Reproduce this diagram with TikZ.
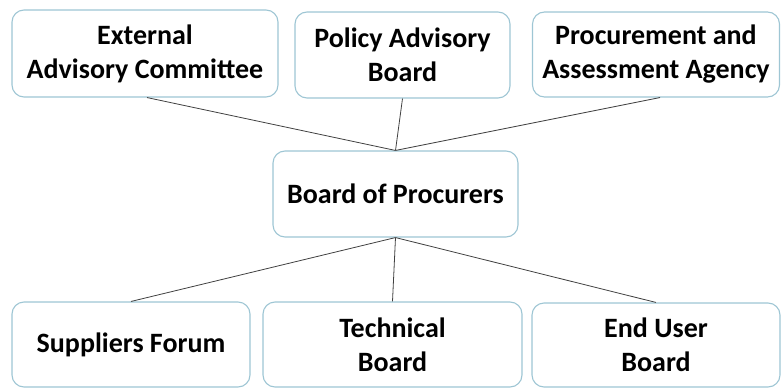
\documentclass[tikz,border=0pt]{standalone}
\usepackage{fontspec}
\setmainfont{Carlito}
\definecolor{boxline}{HTML}{9EC6D4}
\definecolor{linkc}{HTML}{404040}
\begin{document}
\begin{tikzpicture}[x=1pt,y=-1pt,
  orgbox/.style={draw=boxline, line width=1.1pt, rounded corners=12pt, fill=white,
    align=center, font=\fontsize{28}{34}\selectfont\bfseries, inner sep=0pt},
  link/.style={draw=linkc, line width=0.8pt}]
\useasboundingbox (0,0) rectangle (781,388);
% top row
\node[orgbox, minimum width=266pt, minimum height=87pt] (eac) at (145,53.5) {External\\Advisory Committee};
\node[orgbox, minimum width=215pt, minimum height=86pt] (pab) at (402.5,55) {Policy Advisory\\Board};
\node[orgbox, minimum width=247pt, minimum height=85pt] (paa) at (656,54.5) {Procurement and\\Assessment Agency};
% centre
\node[orgbox, minimum width=245pt, minimum height=86pt] (bop) at (395.5,194) {Board of Procurers};
% bottom row
\node[orgbox, minimum width=238pt, minimum height=85pt] (sf) at (131,344.5) {Suppliers Forum};
\node[orgbox, minimum width=259pt, minimum height=85pt] (tb) at (392.5,344.5) {Technical\\Board};
\node[orgbox, minimum width=248pt, minimum height=84pt] (eub) at (656,345) {End User\\Board};
% connectors
\draw[link] ([xshift=2pt]eac.south) -- (bop.north);
\draw[link] (pab.south) -- (bop.north);
\draw[link] ([xshift=4pt]paa.south) -- (bop.north);
\draw[link] (bop.south) -- (sf.north);
\draw[link] (bop.south) -- (tb.north);
\draw[link] (bop.south) -- (eub.north);
\end{tikzpicture}
\end{document}
